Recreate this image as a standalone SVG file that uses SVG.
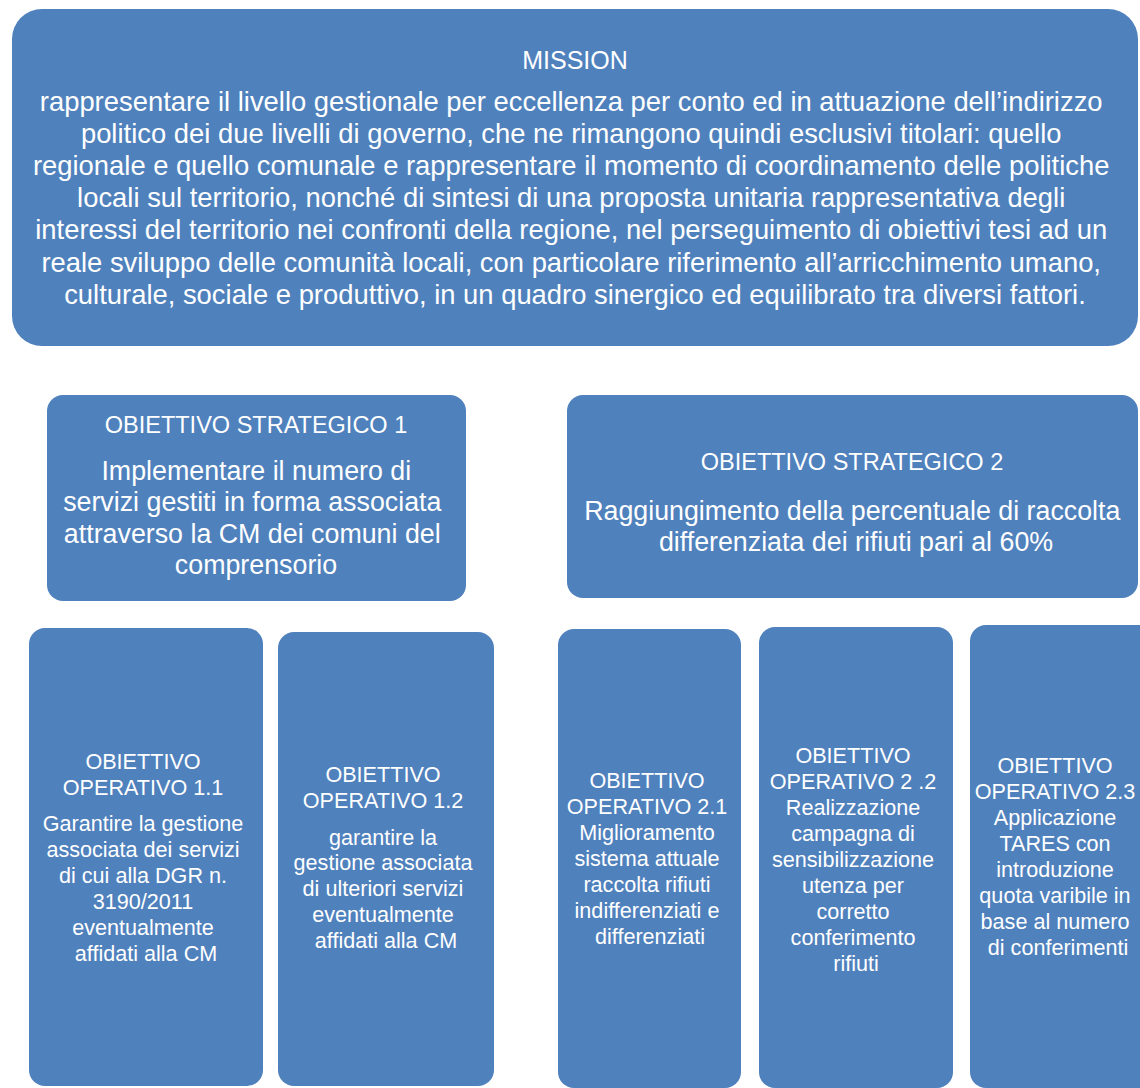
<svg xmlns="http://www.w3.org/2000/svg" width="1140" height="1088" viewBox="0 0 1140 1088">
  <style>
    .box { fill: #4F81BD; }
    text { fill: #FFFFFF; font-family: "Liberation Sans", Arial, sans-serif; text-anchor: middle; }
    .mtitle { font-size: 25px; }
    .mbody { font-size: 27.4px; }
    .stitle { font-size: 23.5px; }
    .sbody { font-size: 26.8px; }
    .op { font-size: 21.6px; }
  </style>
  <rect width="1140" height="1088" fill="#FFFFFF"/>

  <!-- Mission -->
  <g id="mission">
    <rect class="box" x="12" y="9" width="1126" height="337" rx="30"/>
    <text class="mtitle" x="575" y="69">MISSION</text>
    <text class="mbody">
      <tspan x="575" y="111">rappresentare il livello gestionale per eccellenza per conto ed in attuazione dell’indirizzo</tspan>
      <tspan x="575" y="143">politico dei due livelli di governo, che ne rimangono quindi esclusivi titolari: quello</tspan>
      <tspan x="575" y="175">regionale e quello comunale e rappresentare il momento di coordinamento delle politiche</tspan>
      <tspan x="575" y="207">locali sul territorio, nonché di sintesi di una proposta unitaria rappresentativa degli</tspan>
      <tspan x="575" y="239">interessi del territorio nei confronti della regione, nel perseguimento di obiettivi tesi ad un</tspan>
      <tspan x="575" y="272">reale sviluppo delle comunità locali, con particolare riferimento all’arricchimento umano,</tspan>
      <tspan x="575" y="304">culturale, sociale e produttivo, in un quadro sinergico ed equilibrato tra diversi fattori.</tspan>
    </text>
  </g>

  <!-- Strategic objective 1 -->
  <g id="os1">
    <rect class="box" x="47" y="395" width="419" height="206" rx="16"/>
    <text class="stitle" x="256" y="433">OBIETTIVO STRATEGICO 1</text>
    <text class="sbody">
      <tspan x="260" y="480">Implementare il numero di</tspan>
      <tspan x="256" y="511">servizi gestiti in forma associata</tspan>
      <tspan x="256" y="543">attraverso la CM dei comuni del</tspan>
      <tspan x="256" y="574">comprensorio</tspan>
    </text>
  </g>

  <!-- Strategic objective 2 -->
  <g id="os2">
    <rect class="box" x="567" y="395" width="571" height="203" rx="16"/>
    <text class="stitle" x="852" y="470">OBIETTIVO STRATEGICO 2</text>
    <text class="sbody">
      <tspan x="856" y="520">Raggiungimento della percentuale di raccolta</tspan>
      <tspan x="856" y="551">differenziata dei rifiuti pari al 60%</tspan>
    </text>
  </g>

  <!-- Operational objective 1.1 -->
  <g id="oo11">
    <rect class="box" x="29" y="628" width="234" height="458" rx="16"/>
    <text class="op">
      <tspan x="146" y="769">OBIETTIVO</tspan>
      <tspan x="146" y="795">OPERATIVO 1.1</tspan>
      <tspan x="146" y="831">Garantire la gestione</tspan>
      <tspan x="146" y="857">associata dei servizi</tspan>
      <tspan x="146" y="883">di cui alla DGR n.</tspan>
      <tspan x="146" y="909">3190/2011</tspan>
      <tspan x="146" y="935">eventualmente</tspan>
      <tspan x="146" y="961">affidati alla CM</tspan>
    </text>
  </g>

  <!-- Operational objective 1.2 -->
  <g id="oo12">
    <rect class="box" x="278" y="632" width="216" height="454" rx="16"/>
    <text class="op">
      <tspan x="386" y="782">OBIETTIVO</tspan>
      <tspan x="386" y="808">OPERATIVO 1.2</tspan>
      <tspan x="386" y="845">garantire la</tspan>
      <tspan x="386" y="870">gestione associata</tspan>
      <tspan x="386" y="896">di ulteriori servizi</tspan>
      <tspan x="386" y="922">eventualmente</tspan>
      <tspan x="386" y="948">affidati alla CM</tspan>
    </text>
  </g>

  <!-- Operational objective 2.1 -->
  <g id="oo21">
    <rect class="box" x="558" y="629" width="183" height="459" rx="16"/>
    <text class="op">
      <tspan x="650" y="788">OBIETTIVO</tspan>
      <tspan x="650" y="814">OPERATIVO  2.1</tspan>
      <tspan x="650" y="840">Miglioramento</tspan>
      <tspan x="650" y="866">sistema attuale</tspan>
      <tspan x="650" y="892">raccolta rifiuti</tspan>
      <tspan x="650" y="918">indifferenziati e</tspan>
      <tspan x="650" y="944">differenziati</tspan>
    </text>
  </g>

  <!-- Operational objective 2.2 -->
  <g id="oo22">
    <rect class="box" x="759" y="627" width="194" height="461" rx="16"/>
    <text class="op">
      <tspan x="856" y="763">OBIETTIVO</tspan>
      <tspan x="856" y="789">OPERATIVO 2 .2</tspan>
      <tspan x="856" y="815">Realizzazione</tspan>
      <tspan x="856" y="841">campagna di</tspan>
      <tspan x="856" y="867">sensibilizzazione</tspan>
      <tspan x="856" y="893">utenza per</tspan>
      <tspan x="856" y="919">corretto</tspan>
      <tspan x="856" y="945">conferimento</tspan>
      <tspan x="856" y="971">rifiuti</tspan>
    </text>
  </g>

  <!-- Operational objective 2.3 -->
  <g id="oo23">
    <rect class="box" x="970" y="625" width="185" height="463" rx="16"/>
    <text class="op">
      <tspan x="1058" y="773">OBIETTIVO</tspan>
      <tspan x="1058" y="799">OPERATIVO 2.3</tspan>
      <tspan x="1058" y="825">Applicazione</tspan>
      <tspan x="1058" y="851">TARES con</tspan>
      <tspan x="1058" y="877">introduzione</tspan>
      <tspan x="1058" y="903">quota varibile in</tspan>
      <tspan x="1058" y="929">base al numero</tspan>
      <tspan x="1058" y="955">di conferimenti</tspan>
    </text>
  </g>

  <!-- no connectors are drawn between the boxes -->
  <g id="connectors"/>
</svg>
